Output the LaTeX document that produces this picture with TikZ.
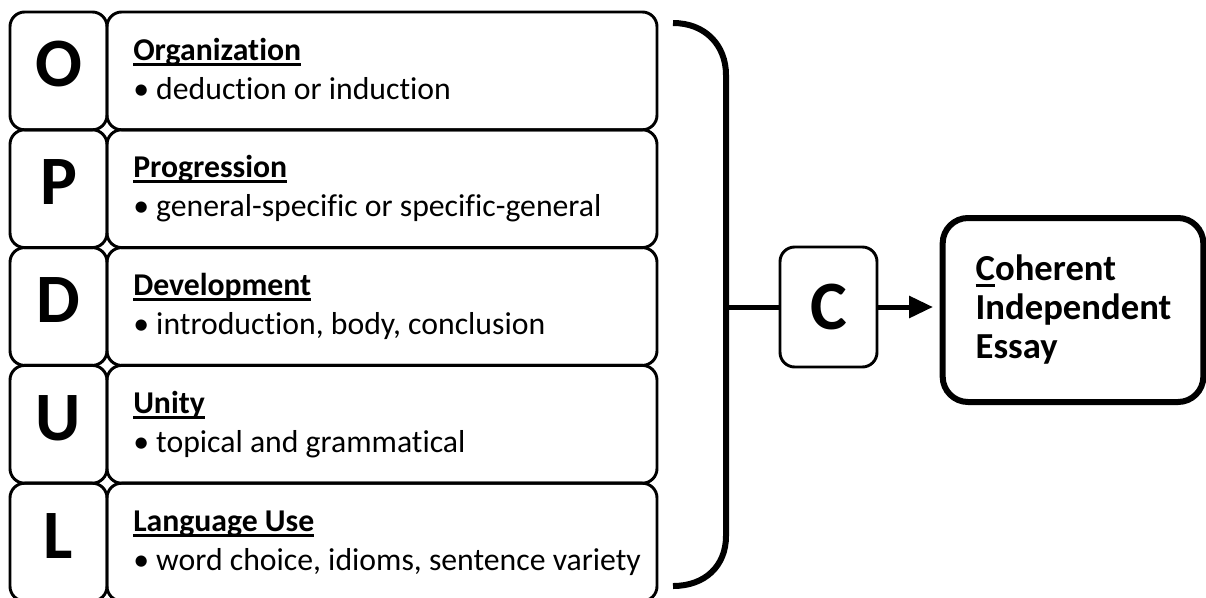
\documentclass[tikz,border=0pt]{standalone}
\usepackage{fontspec}
\setmainfont[Ligatures=NoCommon]{Carlito}
\usetikzlibrary{arrows.meta}
\newlength{\myulw}
\newcommand{\myul}[1]{\settowidth{\myulw}{#1}\rlap{\rule[-4.2pt]{\myulw}{2.2pt}}#1}
\tikzset{
  letterbox/.style={draw, line width=2.2pt, rounded corners=11pt, minimum width=72.75pt, minimum height=88.35pt, inner sep=0pt, font=\fontsize{52}{60}\selectfont\bfseries, text height=35.25pt, text depth=11.25pt},
  contentbox/.style={draw, line width=2.2pt, rounded corners=11pt, minimum width=412.5pt, minimum height=88.35pt, inner sep=0pt},
  titletext/.style={anchor=base west, inner sep=0pt, font=\fontsize{23.8}{28}\selectfont\bfseries},
  itemtext/.style={anchor=base west, inner sep=0pt, font=\fontsize{23.8}{28}\selectfont},
  cboxstyle/.style={draw, line width=2.2pt, rounded corners=11pt, minimum width=72.75pt, minimum height=90pt, inner sep=0pt, font=\fontsize{52}{60}\selectfont\bfseries},
  essaybox/.style={draw, line width=4.5pt, rounded corners=19pt, minimum width=195pt, minimum height=138pt, align=left, text width=146pt, inner xsep=24.75pt, inner ysep=0pt, font=\fontsize{27.5}{29.25}\selectfont\bfseries},
  bracketline/.style={line width=4.5pt},
  conn/.style={line width=3.75pt},
}
\begin{document}
\begin{tikzpicture}[x=0.75pt,y=-0.75pt]
\fill[white] (0,0) rectangle (1206,597);
\useasboundingbox (0,0) rectangle (1206,597);
\foreach \L/\T/\B [count=\i from 0] in {O/Organization/{deduction or induction},P/Progression/{general-specific or specific-general},D/Development/{introduction, body, conclusion},U/Unity/{topical and grammatical},L/Language Use/{word choice, idioms, sentence variety}}{
  \pgfmathsetmacro\rt{12+117.8*\i}
  \node[letterbox] (l\i) at (58.5,\rt+58.9) {\L};
  \node[contentbox] (b\i) at (382,\rt+58.9) {};
  \node[titletext] (t\i) at (133,\rt+48) {\myul{\T}};
  \node[itemtext] (s\i) at (133,\rt+87) {• \B};
}
% bracket
\draw[bracketline] (673,23) .. controls (705,23) and (726,45) .. (726,75) -- (726,536) .. controls (726,566) and (705,586) .. (673,586);
\coordinate (bm) at (726,307);
\node[cboxstyle] (c) at (828.5,307) {C};
\node[essaybox] (essay) at (1073,310) {\myul{C}oherent\\Independent\\Essay};
\draw[conn] (bm) -- (c.west);
\draw[conn, -{Triangle[length=18pt,width=16pt]}, shorten >=5pt] (c.east) -- (c.east -| essay.west);
\end{tikzpicture}
\end{document}
